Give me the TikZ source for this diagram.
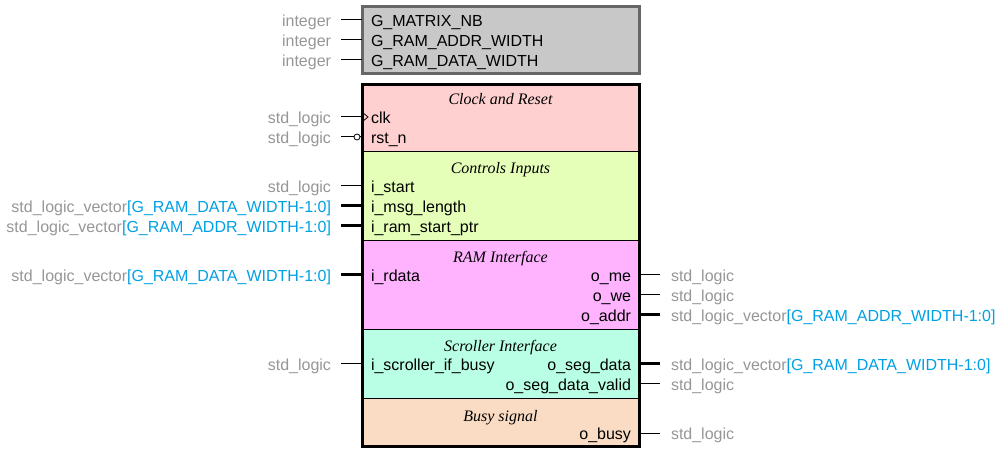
\documentclass[tikz,border=0pt]{standalone}
\usepackage{fontspec}
\setmainfont{Liberation Sans}
\newfontfamily\titlefont{Liberation Serif}
\definecolor{typegrey}{RGB}{150,150,150}
\definecolor{vecblue}{RGB}{0,160,228}
\definecolor{genfill}{RGB}{200,200,200}
\definecolor{genborder}{RGB}{102,102,102}
\definecolor{clkfill}{RGB}{255,208,208}
\definecolor{ctrlfill}{RGB}{230,255,184}
\definecolor{ramfill}{RGB}{255,179,255}
\definecolor{scrfill}{RGB}{184,255,230}
\definecolor{busyfill}{RGB}{250,220,196}
\tikzset{
  portname/.style={anchor=base west},
  outname/.style={anchor=base east},
  typename/.style={anchor=base east, text=typegrey},
  outtype/.style={anchor=base west, text=typegrey},
  sectitle/.style={anchor=base, font=\titlefont\itshape\fontsize{16}{20}\selectfont},
  section/.style={anchor=north west, minimum width=277pt, draw=black, line width=1pt},
  wire/.style={line width=1pt},
  bus/.style={line width=3pt},
}
\newcommand{\vect}[1]{std\_logic\_vector\textcolor{vecblue}{[#1]}}
\begin{document}
\begin{tikzpicture}[x=1pt,y=-1pt,
  every node/.style={font=\fontsize{16}{20}\selectfont, inner sep=0pt, outer sep=0pt}]
  \useasboundingbox (0,0) rectangle (1002,454);
  % Generics
  \node[anchor=north west, minimum width=277pt, minimum height=67pt,
    draw=genborder, fill=genfill, line width=3pt] (generics) at (362,7) {};
  \foreach \y/\n [count=\i] in {20/G\_MATRIX\_NB, 40/G\_RAM\_ADDR\_WIDTH, 60/G\_RAM\_DATA\_WIDTH} {
    \node[portname] (gen\i) at (371,\y+6.5) {\n};
    \node[typename] (gentype\i) at (331,\y+6.5) {integer};
    \coordinate (genpin\i) at (362,\y);
    \coordinate (genend\i) at (341,\y);
    \draw[wire] (genend\i) -- (genpin\i);
  }
  % Sections
  \node[section, fill=clkfill, minimum height=67pt] (clkrst) at (362,85) {};
  \node[section, fill=ctrlfill, minimum height=89pt] (ctrl) at (clkrst.south west) {};
  \node[section, fill=ramfill, minimum height=89pt] (ram) at (ctrl.south west) {};
  \node[section, fill=scrfill, minimum height=69pt] (scroller) at (ram.south west) {};
  \node[section, fill=busyfill, minimum height=47pt] (busy) at (scroller.south west) {};
  \draw[line width=3pt] (clkrst.north west) rectangle (busy.south east);
  \node[sectitle] (clktitle) at (500.5,105) {Clock and Reset};
  \node[sectitle] (ctrltitle) at (500.5,174) {Controls Inputs};
  \node[sectitle] (ramtitle) at (500.5,263) {RAM Interface};
  \node[sectitle] (scrtitle) at (500.5,352) {Scroller Interface};
  \node[sectitle] (busytitle) at (500.5,421) {Busy signal};
  % Input ports
  \foreach \y/\n/\t/\s [count=\i] in {
    117/clk/std\_logic/wire,
    137/rst\_n/std\_logic/wire,
    186/i\_start/std\_logic/wire,
    206/i\_msg\_length/\vect{G\_RAM\_DATA\_WIDTH-1:0}/bus,
    226/i\_ram\_start\_ptr/\vect{G\_RAM\_ADDR\_WIDTH-1:0}/bus,
    275/i\_rdata/\vect{G\_RAM\_DATA\_WIDTH-1:0}/bus,
    364/i\_scroller\_if\_busy/std\_logic/wire} {
    \node[portname] (in\i) at (371,\y+6.5) {\n};
    \node[typename] (intype\i) at (331,\y+6.5) {\t};
    \coordinate (inpin\i) at (362,\y);
    \coordinate (inend\i) at (341,\y);
    \draw[\s] (inend\i) -- (inpin\i);
  }
  % Output ports
  \foreach \y/\n/\t/\s [count=\i] in {
    275/o\_me/std\_logic/wire,
    295/o\_we/std\_logic/wire,
    315/o\_addr/\vect{G\_RAM\_ADDR\_WIDTH-1:0}/bus,
    364/o\_seg\_data/\vect{G\_RAM\_DATA\_WIDTH-1:0}/bus,
    384/o\_seg\_data\_valid/std\_logic/wire,
    433/o\_busy/std\_logic/wire} {
    \node[outname] (out\i) at (631,\y+6.5) {\n};
    \node[outtype] (outtype\i) at (671,\y+6.5) {\t};
    \coordinate (outpin\i) at (639,\y);
    \coordinate (outend\i) at (660,\y);
    \draw[\s] (outpin\i) -- (outend\i);
  }
  % Clock edge and active low markers
  \draw[line width=0.8pt] ([yshift=-5pt]inpin1) -- ([xshift=6pt]inpin1) -- ([yshift=5pt]inpin1);
  \draw[line width=0.8pt, fill=white] ([xshift=-5pt]inpin2) circle (3pt);
\end{tikzpicture}
\end{document}
